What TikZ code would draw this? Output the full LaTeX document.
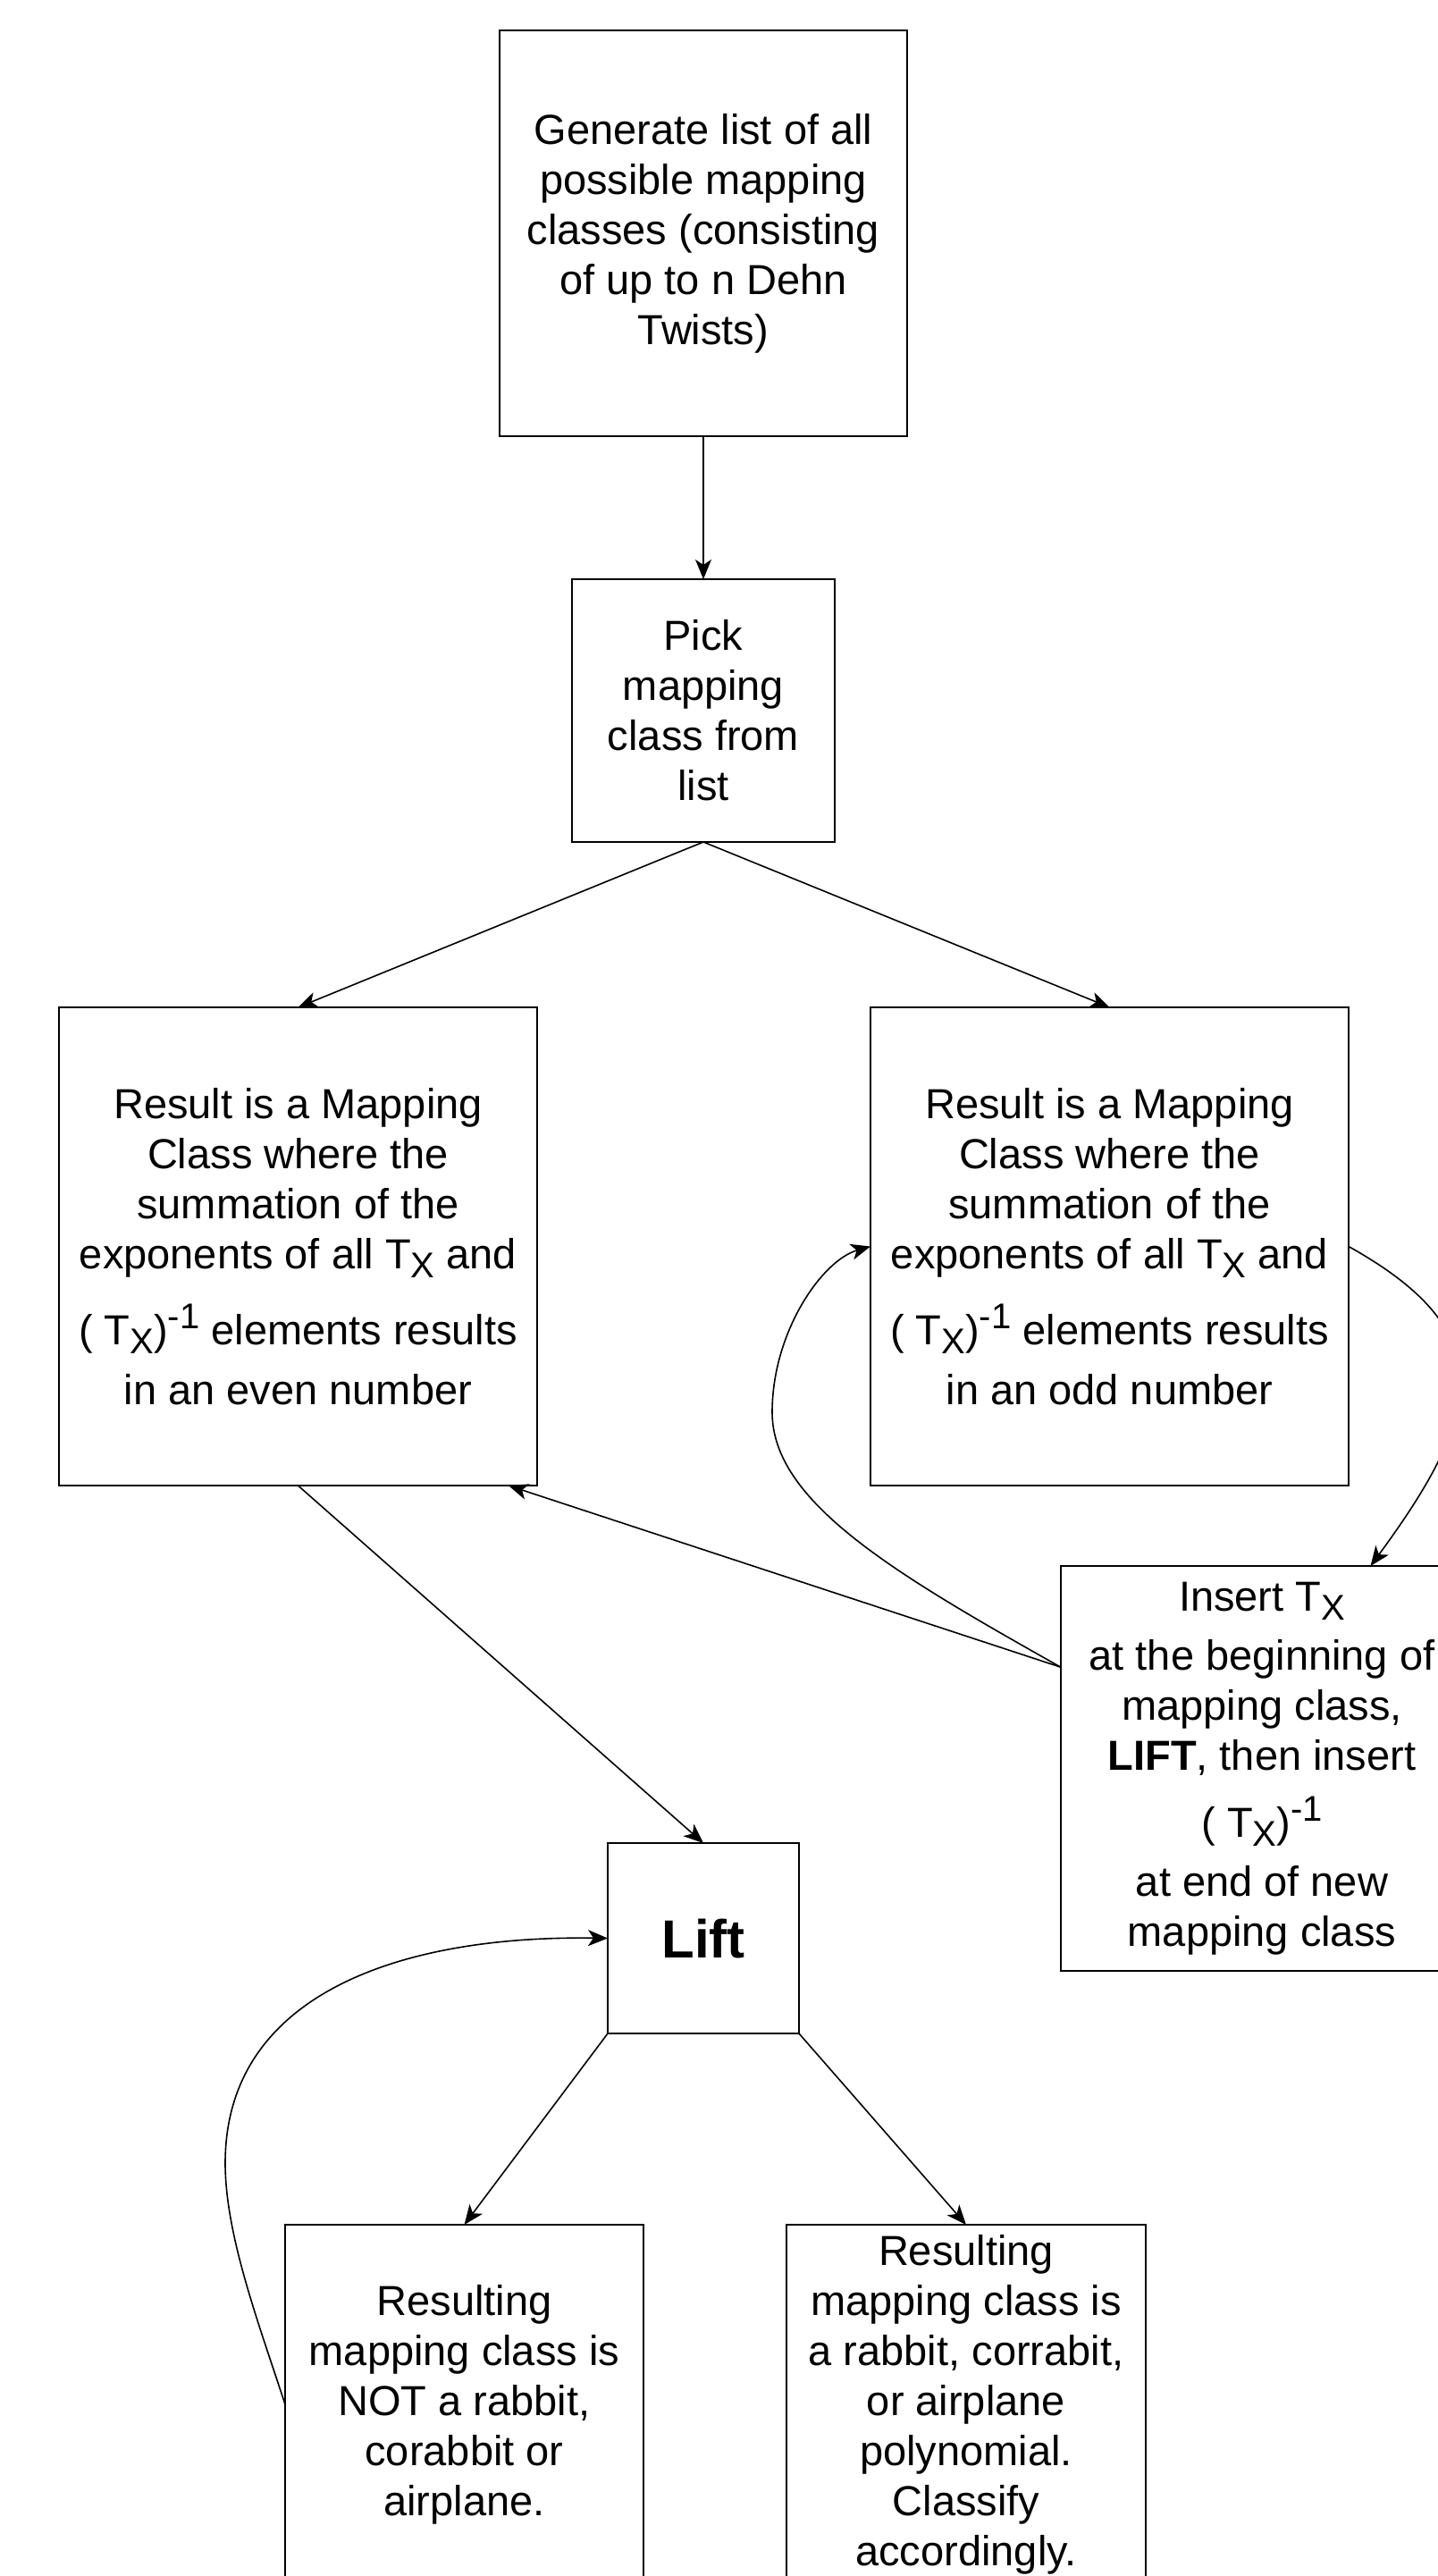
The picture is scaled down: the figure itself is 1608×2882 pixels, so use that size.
\documentclass[tikz,border=0pt]{standalone}
\usepackage{fontspec}
\setmainfont{Liberation Sans}
\usetikzlibrary{arrows.meta,calc}
\newcommand\myTx{T\raisebox{-5pt}{\fontsize{20}{20}\selectfont X}}
\newcommand\myInv{\raisebox{9pt}{\fontsize{20}{20}\selectfont -1}}
\begin{document}
\begin{tikzpicture}[x=0.5pt,y=-0.5pt,
  box/.style={draw=black, line width=1pt, fill=white, inner sep=0pt, outer sep=0pt,
    align=center, font=\fontsize{23.5}{28}\selectfont,
    execute at begin node={\setlength{\lineskiplimit}{-100pt}}},
  conn/.style={line width=0.8pt, -{Stealth[length=11pt,width=9pt,inset=3pt]}}]
\path[use as bounding box, fill=white] (0,0) rectangle (1608,2882);

\node[box, minimum width=228pt, minimum height=227pt] (gen) at (787,261)
  {Generate list of all\\possible mapping\\classes (consisting\\of up to n Dehn\\Twists)};
\node[box, minimum width=147pt, minimum height=147pt] (pick) at (787,795)
  {Pick\\mapping\\class from\\list};
\node[box, minimum width=267.5pt, minimum height=267.5pt] (even) at (333.5,1394.5)
  {Result is a Mapping\\Class where the\\summation of the\\exponents of all \myTx{} and\\[14.5pt]( \myTx)\myInv{} elements results\\[5.5pt]in an even number};
\node[box, minimum width=267.5pt, minimum height=267.5pt] (odd) at (1241.5,1394.5)
  {Result is a Mapping\\Class where the\\summation of the\\exponents of all \myTx{} and\\[14.5pt]( \myTx)\myInv{} elements results\\[5.5pt]in an odd number};
\node[box, minimum width=225pt, minimum height=226.5pt] (ins) at (1412,1978.5)
  {Insert \myTx\\[5pt]at the beginning of\\mapping class,\\\textbf{LIFT}, then insert\\[9.5pt]( \myTx)\myInv\\[5pt]at end of new\\mapping class};
\node[box, minimum width=107pt, minimum height=106.5pt, font=\bfseries\fontsize{30}{36}\selectfont] (lift) at (787,2168.5) {Lift};
\node[box, minimum width=200.5pt, minimum height=201pt] (notr) at (519.5,2690)
  {Resulting\\mapping class is\\NOT a rabbit,\\corabbit or\\airplane.};
\node[box, minimum width=201pt, minimum height=201pt] (isr) at (1081,2690)
  {Resulting\\mapping class is\\a rabbit, corrabit,\\or airplane\\polynomial.\\Classify\\accordingly.};

\coordinate (insL) at ($(ins.north west)!0.25!(ins.south west)$);
\coordinate (evenB) at ($(even.south west)!0.94!(even.south east)$);
\coordinate (insT) at ($(ins.north west)!0.77!(ins.north east)$);

\draw[conn] (gen.south) -- (pick.north);
\draw[conn] (pick.south) -- (even.north);
\draw[conn] (pick.south) -- (odd.north);
\draw[conn] (even.south) -- (lift.north);
\draw[conn] (insL) -- (evenB);
\draw[conn] (insL) .. controls (1000,1760) and (864,1680) .. (864,1580)
  .. controls (864,1490) and (920,1410) .. (odd.west);
\draw[conn] (odd.east) .. controls (1680,1490) and (1660,1580) .. (insT);
\draw[conn] (lift.south west) -- (notr.north);
\draw[conn] (lift.south east) -- (isr.north);
\draw[conn] (notr.west) .. controls (289,2598) and (252,2500) .. (252,2420)
  .. controls (252,2230) and (450,2165) .. (lift.west);
\end{tikzpicture}
\end{document}
